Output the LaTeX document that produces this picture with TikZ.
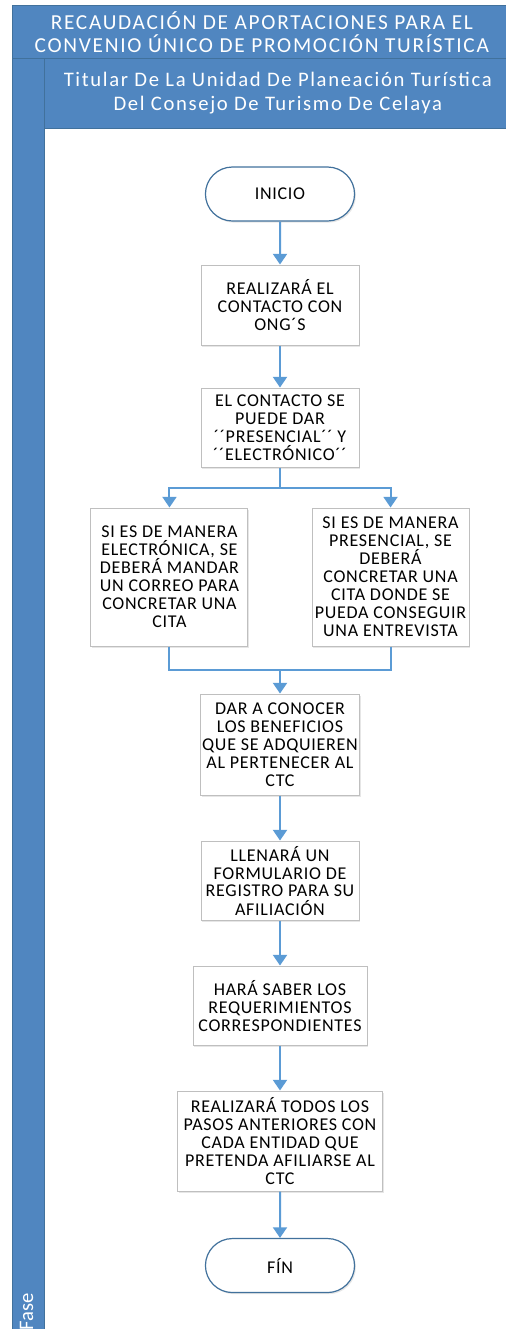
\documentclass[tikz,border=0pt]{standalone}
\usepackage{fontspec}
\setmainfont{Carlito}
\newfontfamily\boxfont[LetterSpace=4]{Carlito}
\newfontfamily\headfont[LetterSpace=8]{Carlito}
\usetikzlibrary{shapes,arrows.meta,positioning,calc,shadows}
\definecolor{laneblue}{RGB}{80,134,192}
\definecolor{laneedge}{RGB}{65,113,156}
\definecolor{flowblue}{RGB}{91,155,213}
\definecolor{boxedge}{RGB}{191,191,191}
\tikzstyle{lane} = [rectangle, draw=laneedge, fill=laneblue, line width=0.75pt, text=white, align=center, inner sep=0pt]
\tikzstyle{process} = [rectangle, draw=boxedge, fill=white, line width=0.75pt, align=center, inner sep=1pt, minimum width=118.5pt, drop shadow={shadow xshift=1pt, shadow yshift=-1.2pt, opacity=0.2}, font={\boxfont\fontsize{13.5pt}{13.5pt}\selectfont}]
\tikzstyle{terminal} = [rounded rectangle, draw=laneedge, fill=white, line width=0.9pt, minimum width=118.5pt, minimum height=40.5pt, drop shadow={shadow xshift=1pt, shadow yshift=-1.2pt, opacity=0.2}, font={\boxfont\fontsize{13.5pt}{13.5pt}\selectfont}]
\tikzstyle{line} = [draw, flowblue, line width=1.5pt, -{Triangle[width=10.5pt,length=8pt]}]
\tikzstyle{link} = [draw, flowblue, line width=1.5pt]

\begin{document}
\begin{tikzpicture}[every node/.style={node distance=90pt}]
	\useasboundingbox (0,0) rectangle (379.5pt,-996.75pt);
	%Swimlane
	\node [lane, anchor=north west, minimum width=374pt, minimum height=39.75pt, font={\headfont\fontsize{16pt}{17pt}\selectfont}] (Title) at (9pt,-3.75pt) {RECAUDACIÓN DE APORTACIONES PARA EL\\CONVENIO ÚNICO DE PROMOCIÓN TURÍSTICA};
	\node [lane, anchor=north west, minimum width=24pt, minimum height=960pt] (Phase) at (9pt,-43.5pt) {};
	\node [lane, anchor=north west, minimum width=350pt, minimum height=52.5pt, font={\headfont\fontsize{15.5pt}{18pt}\selectfont}] (Role) at (33pt,-43.5pt) {Titular De La Unidad De Planeación Turística\\Del Consejo De Turismo De Celaya};
	\node [text=white, rotate=90, anchor=west, inner sep=0pt, font=\fontsize{15.5pt}{17pt}\selectfont] (PhaseLabel) at (20pt,-998pt) {Fase};

	%Place nodes
	\node [terminal] (Start) at (210pt,-145.5pt) {INICIO};
	\node [process, minimum height=60pt, below of=Start, node distance=83.25pt] (Contact) {REALIZARÁ EL\\CONTACTO CON\\ONG´S};
	\node [process, minimum height=59.25pt, below of=Contact, node distance=91.9pt] (Mode) {EL CONTACTO SE\\PUEDE DAR\\´´PRESENCIAL´´ Y\\´´ELECTRÓNICO´´};
	\node [process, minimum width=117.75pt, minimum height=103.5pt, below of=Mode, node distance=112.1pt, xshift=-82.9pt] (Email) {SI ES DE MANERA\\ELECTRÓNICA, SE\\DEBERÁ MANDAR\\UN CORREO PARA\\CONCRETAR UNA\\CITA};
	\node [process, minimum width=117.75pt, minimum height=103.5pt, below of=Mode, node distance=112.1pt, xshift=82.9pt] (Visit) {SI ES DE MANERA\\PRESENCIAL, SE\\DEBERÁ\\CONCRETAR UNA\\CITA DONDE SE\\PUEDA CONSEGUIR\\UNA ENTREVISTA};
	\node [process, minimum height=75.75pt, below of=Mode, node distance=237.75pt] (Benefits) {DAR A CONOCER\\LOS BENEFICIOS\\QUE SE ADQUIEREN\\AL PERTENECER AL\\CTC};
	\node [process, minimum height=59.25pt, below of=Benefits, node distance=102pt] (Form) {LLENARÁ UN\\FORMULARIO DE\\REGISTRO PARA SU\\AFILIACIÓN};
	\node [process, minimum width=130.5pt, minimum height=59.25pt, below of=Form, node distance=93.75pt] (Requirements) {HARÁ SABER LOS\\REQUERIMIENTOS\\CORRESPONDIENTES};
	\node [process, minimum width=153.75pt, minimum height=75pt, below of=Requirements, node distance=101.6pt] (Repeat) {REALIZARÁ TODOS LOS\\PASOS ANTERIORES CON\\CADA ENTIDAD QUE\\PRETENDA AFILIARSE AL\\CTC};
	\node [terminal, below of=Repeat, node distance=93.4pt] (End) {FÍN};

	\coordinate (Split) at ($(Mode.south)!0.5!(Mode.south |- Email.north)$);
	\coordinate (Merge) at ($(Benefits.north)!0.5!(Benefits.north |- Email.south)$);

	\path [line] (Start) -- (Contact);
	\path [line] (Contact) -- (Mode);
	\path [link] (Mode) -- (Split);
	\path [line] (Split) -| (Email);
	\path [line] (Split) -| (Visit);
	\path [link] (Email) |- (Merge);
	\path [link] (Visit) |- (Merge);
	\path [line] (Merge) -- (Benefits);
	\path [line] (Benefits) -- (Form);
	\path [line] (Form) -- (Requirements);
	\path [line] (Requirements) -- (Repeat);
	\path [line] (Repeat) -- (End);
\end{tikzpicture}
\end{document}
